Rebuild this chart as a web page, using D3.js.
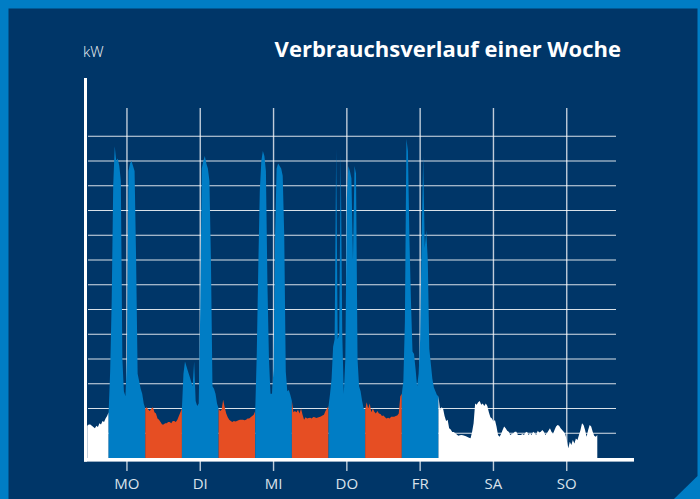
<!DOCTYPE html>
<meta charset="utf-8">
<style>
body { margin: 0; background: #007dc5; }
svg { display: block; font-family: "Open Sans", "Noto Sans", sans-serif; }
</style>
<svg width="700" height="499"></svg>
<script src="https://d3js.org/d3.v7.min.js"></script>
<script>

// Wochentage (Beschriftung jeweils um 12 Uhr)
var days = ["MO", "DI", "MI", "DO", "FR", "SA", "SO"];

// Lastgang in kW, halbstündlich, ab So 23:00 (Stunde -1)
var kwFreiStart = [1.3, 1.35, 1.35, 1.3, 1.25, 1.2, 1.3, 1.25, 1.4, 1.35, 1.5, 1.45, 1.6, 1.7, 1.85];
var kwMo = [3.5, 6.3, 11.0, 12.6, 12.0, 12.1, 11.8, 11.2, 4.0, 2.7, 2.5, 4.0,
            11.6, 11.9, 12.0, 11.8, 11.6, 8.0, 3.4, 3.1, 2.8, 2.6, 2.2, 2.0];
var kwNachtMo = [2.05, 1.95, 1.9, 2.0, 2.05, 1.85, 1.8, 1.6, 1.55, 1.45, 1.35, 1.35,
                 1.4, 1.4, 1.45, 1.45, 1.4, 1.5, 1.5, 1.45, 1.55, 1.7, 1.85, 2.0];
var kwDi = [3.4, 3.9, 3.7, 3.5, 3.3, 3.1, 2.9, 3.9, 2.3, 2.1, 2.2, 6.0,
            11.7, 12.0, 12.2, 11.9, 11.7, 11.2, 8.0, 2.9, 2.8, 2.6, 2.2, 2.0];
var kwNachtDi = [1.9, 1.95, 2.35, 2.05, 1.8, 1.65, 1.55, 1.5, 1.45, 1.5, 1.47, 1.5,
                 1.53, 1.55, 1.55, 1.55, 1.53, 1.55, 1.6, 1.6, 1.65, 1.7, 1.75, 1.9];
var kwMi = [4.2, 7.7, 10.8, 12.0, 12.4, 12.2, 11.6, 7.0, 4.0, 2.6, 2.6, 3.6,
            9.0, 11.7, 11.9, 11.8, 11.7, 11.4, 9.0, 3.5, 2.7, 2.75, 2.55, 2.3];
var kwNachtMi = [1.85, 1.9, 1.85, 1.95, 1.8, 2.0, 1.75, 1.55, 1.65, 1.6, 1.62, 1.63,
                 1.6, 1.66, 1.65, 1.62, 1.64, 1.66, 1.68, 1.72, 1.75, 1.9, 2.0, 2.1];
var kwDo = [2.6, 3.2, 4.5, 4.8, 12.5, 4.8, 5.0, 12.3, 5.0, 2.6, 4.0, 10.5,
            11.8, 11.6, 11.3, 8.0, 11.8, 11.5, 4.0, 2.9, 2.7, 2.3, 2.0, 1.95];
var kwNachtDo = [2.25, 2.0, 2.2, 1.85, 2.0, 1.87, 1.8, 1.9, 1.8, 1.78, 1.7, 1.72,
                 1.65, 1.6, 1.63, 1.6, 1.67, 1.67, 1.67, 1.7, 1.72, 1.8, 2.5, 2.6];
var kwFr = [3.1, 5.5, 12.9, 12.4, 8.8, 6.3, 4.3, 4.2, 3.6, 2.9, 3.4, 4.8,
            9.0, 12.2, 8.5, 9.2, 8.0, 4.4, 3.8, 3.2, 2.85, 2.7, 2.55, 2.5];
var kwWochenende = [1.95, 2.05, 2.0, 1.7, 1.5, 1.55, 1.2, 1.15, 1.05, 1.05,
                    1.0, 0.95, 0.9, 0.92, 0.93, 0.92, 0.9, 0.88, 0.85, 0.82,
                    0.8, 1.05, 1.4, 2.2, 2.15, 2.25, 2.3, 2.15, 2.2, 2.1,
                    2.2, 2.1, 1.85, 1.65, 1.6, 1.47, 1.54, 1.27, 0.93, 0.86,
                    0.97, 1.13, 1.27, 1.2, 1.1, 1.06, 0.93, 0.97, 1.0, 1.06,
                    1.06, 0.93, 0.93, 0.93, 0.97, 0.93, 1.03, 1.06, 0.93, 1.0,
                    0.93, 1.06, 1.0, 0.93, 1.1, 1.03, 1.06, 1.13, 1.06, 0.93,
                    1.0, 1.1, 1.2, 1.06, 0.97, 1.13, 1.27, 1.33, 1.3, 1.2,
                    1.13, 1.06, 0.97, 0.73, 0.39, 0.66, 0.53, 0.73, 0.59, 0.79,
                    0.73, 0.93, 1.13, 1.4, 1.33, 1.13, 0.86, 1.13, 1.33, 1.27,
                    1.06, 0.9, 0.86, 0.93];

var startHour = -1, stepHour = 0.5;

var segments = [
  {kind: "frei", values: kwFreiStart},
  {kind: "tag", values: kwMo},
  {kind: "nacht", values: kwNachtMo},
  {kind: "tag", values: kwDi},
  {kind: "nacht", values: kwNachtDi},
  {kind: "tag", values: kwMi},
  {kind: "nacht", values: kwNachtMi},
  {kind: "tag", values: kwDo},
  {kind: "nacht", values: kwNachtDo},
  {kind: "tag", values: kwFr},
  {kind: "frei", values: kwWochenende}
];

var colors = {frei: "#ffffff", tag: "#007dc5", nacht: "#e64e23"};

var svg = d3.select("svg");

// Rahmen: hellblau aussen, dunkelblaue Flaeche mit abgeschraegter Ecke
svg.append("rect").attr("width", 700).attr("height", 499).attr("fill", "#007dc5");
svg.append("path")
    .attr("d", "M8.5,8.5H697.5V476L674,499H8.5Z")
    .attr("fill", "#003668");

var x = d3.scaleLinear().domain([0, 168]).range([90.3, 603.4]),
    y = d3.scaleLinear().domain([0, 13]).range([458, 136.25]);

// Gitter
svg.append("g").selectAll("line")
  .data(d3.range(1, 14))
  .enter().append("line")
    .attr("x1", 88).attr("x2", 616)
    .attr("y1", function(d) { return y(d); })
    .attr("y2", function(d) { return y(d); })
    .attr("stroke", "#ffffff")
    .attr("stroke-opacity", 0.85)
    .attr("stroke-width", 1.2);

svg.append("g").selectAll("line")
  .data(days)
  .enter().append("line")
    .attr("x1", function(d, i) { return x(24 * i + 12); })
    .attr("x2", function(d, i) { return x(24 * i + 12); })
    .attr("y1", 108).attr("y2", 471)
    .attr("stroke", "#ffffff")
    .attr("stroke-opacity", 0.75)
    .attr("stroke-width", 1.4);

// Flaechen je Abschnitt
var area = d3.area()
    .x(function(d) { return x(d.h); })
    .y0(y(0))
    .y1(function(d) { return y(d.v); });

var hour = startHour, prev = null;
segments.forEach(function(s) {
  var pts = prev ? [prev] : [];
  s.values.forEach(function(v) {
    pts.push({h: hour, v: v});
    hour += stepHour;
  });
  prev = pts[pts.length - 1];
  svg.append("path")
      .attr("d", area(pts))
      .attr("fill", colors[s.kind]);
});

// Achsen
svg.append("rect")
    .attr("x", 84).attr("y", y(0))
    .attr("width", 550).attr("height", 3.6)
    .attr("fill", "#ffffff");
svg.append("rect")
    .attr("x", 84).attr("y", 78)
    .attr("width", 3).attr("height", y(0) + 3.6 - 78)
    .attr("fill", "#ffffff");

svg.append("g").selectAll("text")
  .data(days)
  .enter().append("text")
    .attr("x", function(d, i) { return x(24 * i + 12); })
    .attr("y", 489)
    .attr("text-anchor", "middle")
    .attr("font-size", 15)
    .attr("fill", "#dae2eb")
    .text(function(d) { return d; });

svg.append("text")
    .attr("x", 83).attr("y", 57)
    .attr("font-size", 15)
    .attr("font-weight", 300)
    .attr("fill", "#f0f3f7")
    .text("kW");

svg.append("text")
    .attr("x", 621).attr("y", 57)
    .attr("text-anchor", "end")
    .attr("font-size", 22)
    .attr("font-weight", 700)
    .attr("fill", "#ffffff")
    .text("Verbrauchsverlauf einer Woche");

</script>
